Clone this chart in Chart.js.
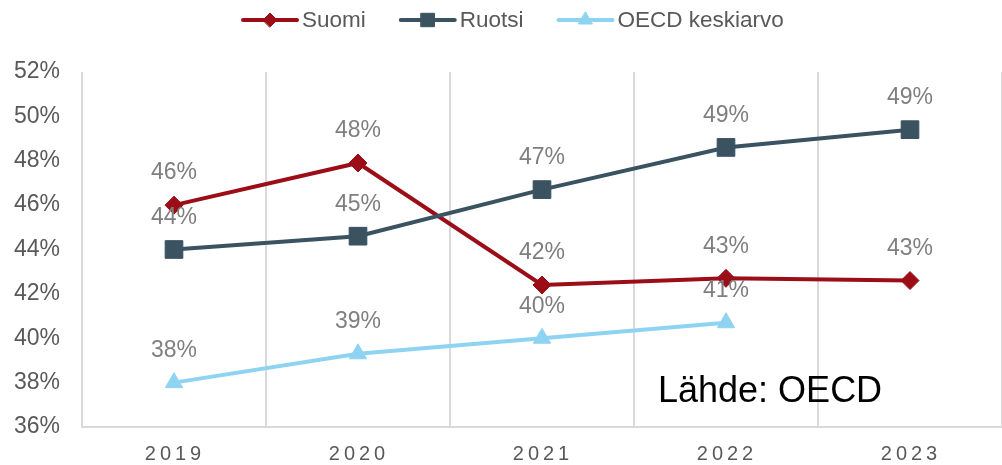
<!DOCTYPE html>
<html>
<head>
<meta charset="utf-8">
<script src="https://cdn.jsdelivr.net/npm/chart.js@4/dist/chart.umd.min.js"></script>
<style>
html,body{margin:0;padding:0;background:#fff;}
#wrap{width:1002px;height:465px;position:relative;}
</style>
</head>
<body>
<div id="wrap"><canvas id="c" width="1002" height="465"></canvas></div>
<script>
const categories = ['2019', '2020', '2021', '2022', '2023'];
const suomi = [46.0, 47.9, 42.4, 42.7, 42.6];
const ruotsi = [44.0, 44.6, 46.7, 48.6, 49.4];
const oecd = [38.0, 39.3, 40.0, 40.7, null];
const seriesNames = ['Suomi', 'Ruotsi', 'OECD keskiarvo'];
const yMin = 36, yMax = 52, yStep = 2;
const sourceNote = 'Lähde: OECD';

const FONT = '"Liberation Sans", Arial, sans-serif';
const colors = ['#9b0e18', '#3b5261', '#8fd3f2'];
const styles = ['rectRot', 'rect', 'triangle'];
const radii = [9, 12.5, 10];
const legendRadii = [7, 9.5, 8];

function ds(label, data, i) {
  return {
    label, data,
    borderColor: colors[i], backgroundColor: colors[i],
    borderWidth: 4, tension: 0,
    pointStyle: styles[i], pointRadius: radii[i], pointHoverRadius: radii[i],
    pointBackgroundColor: colors[i], pointBorderColor: colors[i], pointBorderWidth: 1,
    spanGaps: false, order: 3 - i
  };
}

const extras = {
  id: 'extras',
  afterDraw(chart) {
    const ctx = chart.ctx;
    // data labels
    ctx.save();
    ctx.font = '23px ' + FONT;
    ctx.fillStyle = '#7f7f7f';
    ctx.textAlign = 'center';
    ctx.textBaseline = 'middle';
    chart.data.datasets.forEach((d, di) => {
      const meta = chart.getDatasetMeta(di);
      meta.data.forEach((pt, j) => {
        const v = d.data[j];
        if (v === null || v === undefined) return;
        ctx.fillText(Math.round(v) + '%', pt.x, pt.y - 32);
      });
    });
    ctx.restore();

    // x tick labels with letter spacing
    const xs = chart.scales.x;
    ctx.save();
    ctx.font = '20px ' + FONT;
    ctx.fillStyle = '#595959';
    ctx.textAlign = 'center';
    ctx.textBaseline = 'middle';
    try { ctx.letterSpacing = '4px'; } catch (e) {}
    categories.forEach((c, j) => {
      ctx.fillText(c, xs.getPixelForValue(j) + 1, 454);
    });
    ctx.restore();

    // legend
    ctx.save();
    let x = 243;
    const ly = 20;
    ctx.font = '22.5px ' + FONT;
    ctx.textBaseline = 'middle';
    ctx.textAlign = 'left';
    chart.data.datasets.forEach((d, di) => {
      ctx.strokeStyle = colors[di];
      ctx.fillStyle = colors[di];
      ctx.lineWidth = 4;
      ctx.lineCap = 'round';
      ctx.beginPath();
      ctx.moveTo(x, ly);
      ctx.lineTo(x + 54, ly);
      ctx.stroke();
      ctx.lineWidth = 1;
      Chart.helpers.drawPoint(ctx, {pointStyle: styles[di], rotation: 0, radius: legendRadii[di], borderWidth: 1}, x + 27, ly);
      ctx.fillStyle = '#595959';
      ctx.fillText(d.label, x + 59, ly + 1);
      x += 59 + ctx.measureText(d.label).width + 35;
    });
    ctx.restore();

    // source note
    ctx.save();
    ctx.font = '36px ' + FONT;
    ctx.fillStyle = '#000000';
    ctx.textAlign = 'left';
    ctx.textBaseline = 'alphabetic';
    ctx.fillText(sourceNote, 658, 402);
    ctx.restore();
  }
};

new Chart(document.getElementById('c'), {
  type: 'line',
  data: {
    labels: categories,
    datasets: [ds(seriesNames[0], suomi, 0), ds(seriesNames[1], ruotsi, 1), ds(seriesNames[2], oecd, 2)]
  },
  options: {
    responsive: false,
    devicePixelRatio: 1,
    animation: false,
    events: [],
    layout: { autoPadding: false, padding: { top: 72, left: 0, right: 0, bottom: 0 } },
    plugins: { legend: { display: false }, tooltip: { enabled: false } },
    scales: {
      x: {
        type: 'category',
        offset: true,
        grid: { offset: true, color: '#d9d9d9', lineWidth: 2, drawTicks: false },
        border: { color: '#d9d9d9', width: 2 },
        ticks: { display: false },
        afterFit(s) { s.height = 38; }
      },
      y: {
        min: yMin, max: yMax,
        grid: { display: false, drawTicks: false },
        border: { display: false },
        ticks: {
          stepSize: yStep,
          padding: 22,
          color: '#595959',
          font: { size: 23, family: FONT },
          callback: v => v + '%'
        },
        afterFit(s) { s.width = 82; }
      }
    }
  },
  plugins: [extras]
});
</script>
</body>
</html>
